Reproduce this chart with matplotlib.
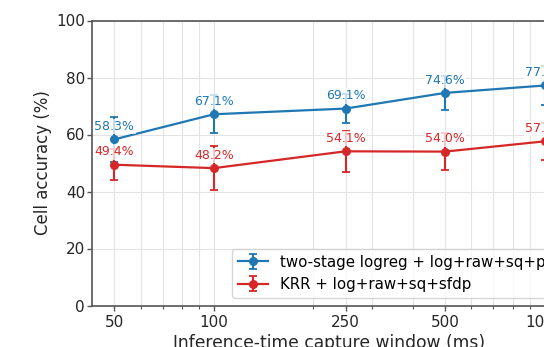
import numpy as np
import matplotlib
matplotlib.use("Agg")
import matplotlib.pyplot as plt
from matplotlib.ticker import FixedLocator, FixedFormatter, NullFormatter, LogLocator

windows = [50, 100, 250, 500, 1000]
window_labels = ["50", "100", "250", "500", "1000"]

logreg_acc = [58.3, 67.1, 69.1, 74.6, 77.2]
logreg_err = [8.0, 6.7, 5.0, 5.9, 7.0]
krr_acc = [49.4, 48.2, 54.1, 54.0, 57.6]
krr_err = [5.5, 7.6, 7.3, 6.6, 6.6]

series = [
    ("two-stage logreg + log+raw+sq+psd", logreg_acc, logreg_err, "#1f77b4"),
    ("KRR + log+raw+sq+sfdp", krr_acc, krr_err, "#d62728"),
]

fig = plt.figure(figsize=(5.44, 3.47), dpi=100)
# the original figure is cropped on the right, so the axes run past the edge
ax = fig.add_axes([92 / 544, 41.5 / 347, 475 / 544, 285 / 347])

for name, acc, err, col in series:
    ax.errorbar(windows, acc, yerr=err, color=col, lw=1.6, marker="o", ms=5.5,
                capsize=3, elinewidth=1.5, capthick=1.3, label=name, zorder=3)
    for x, v in zip(windows, acc):
        ax.annotate(f"{v:.1f}%", (x, v), xytext=(0, 4.5), textcoords="offset points",
                    ha="center", va="bottom", fontsize=9, color=col, zorder=4,
                    bbox=dict(boxstyle="square,pad=0.1", fc="white", ec="none", alpha=0.75))

ax.set_xscale("log")
ax.set_xlim(42.8, 1168)
ax.set_ylim(0, 100)
ax.xaxis.set_major_locator(FixedLocator(windows))
ax.xaxis.set_major_formatter(FixedFormatter(window_labels))
ax.xaxis.set_minor_locator(LogLocator(base=10, subs=np.arange(2, 10)))
ax.xaxis.set_minor_formatter(NullFormatter())
ax.set_yticks([0, 20, 40, 60, 80, 100])

ax.grid(True, which="both", color="#e3e3e3", lw=0.8, zorder=0)
ax.set_axisbelow(True)
for s in ax.spines.values():
    s.set_color("#555555")
    s.set_linewidth(1.2)
ax.tick_params(axis="both", which="major", labelsize=11, labelcolor="#262626",
               color="#555555", length=3.5, width=1)
ax.tick_params(axis="y", which="major", pad=1.5)
ax.tick_params(axis="x", which="major", pad=3)
ax.tick_params(axis="x", which="minor", color="#555555", length=2.5, width=0.8)

ax.set_xlabel("Inference-time capture window (ms)", fontsize=12.3, color="#262626",
              labelpad=3)
ax.set_ylabel("Cell accuracy (%)", fontsize=12, color="#262626", labelpad=3)

ax.legend(loc="lower left", bbox_to_anchor=(0.2947, 0.026), borderaxespad=0,
          fontsize=10.8, edgecolor="#cccccc", framealpha=0.8)

fig.savefig("out.png", dpi=100)
